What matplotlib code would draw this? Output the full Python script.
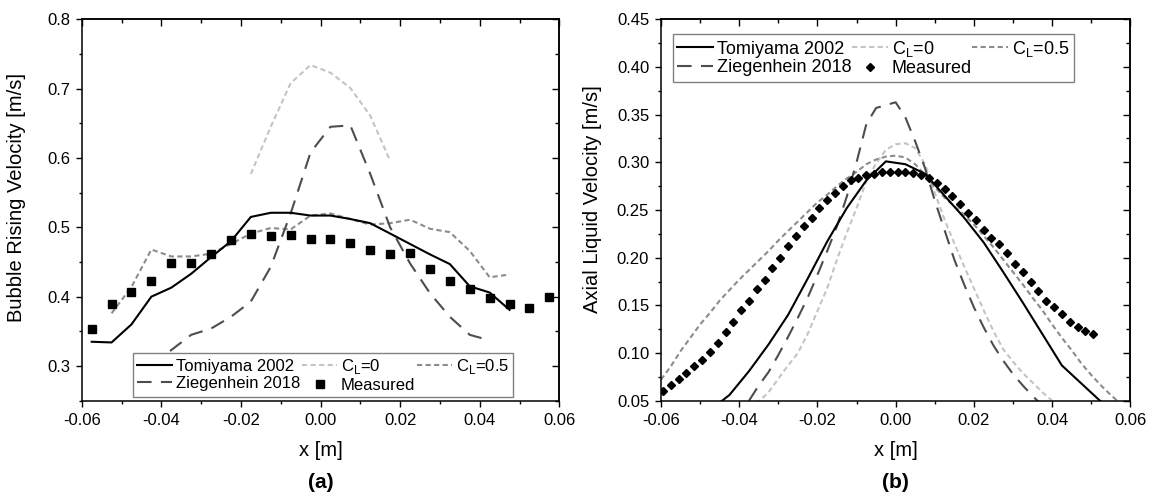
import matplotlib
matplotlib.use('Agg')
import matplotlib.pyplot as plt
from matplotlib.lines import Line2D
from matplotlib.ticker import NullFormatter

plt.rcParams['font.family'] = ['Liberation Sans', 'DejaVu Sans']
plt.rcParams['axes.unicode_minus'] = False

# ---------------- Panel (a): bubble rising velocity ----------------
xa_meas = [-0.0575, -0.0525, -0.0475, -0.0425, -0.0375, -0.0325, -0.0275, -0.0225,
           -0.0175, -0.0125, -0.0075, -0.0025, 0.0025, 0.0075, 0.0125, 0.0175,
           0.0225, 0.0275, 0.0325, 0.0375, 0.0425, 0.0475, 0.0525, 0.0575]
ya_meas = [0.354, 0.390, 0.407, 0.422, 0.448, 0.448, 0.462, 0.482,
           0.490, 0.488, 0.489, 0.483, 0.483, 0.478, 0.468, 0.461,
           0.463, 0.440, 0.423, 0.411, 0.398, 0.390, 0.383, 0.399]

xa_tomi = [-0.0575, -0.0525, -0.0475, -0.0425, -0.0375, -0.0325, -0.0275, -0.0225,
           -0.0175, -0.0125, -0.0075, -0.0025, 0.0025, 0.0075, 0.0125, 0.0175,
           0.0225, 0.0275, 0.0325, 0.0375, 0.0425, 0.0475]
ya_tomi = [0.335, 0.334, 0.360, 0.400, 0.413, 0.433, 0.457, 0.480,
           0.515, 0.521, 0.521, 0.517, 0.517, 0.512, 0.506, 0.491,
           0.476, 0.461, 0.447, 0.415, 0.406, 0.381]

xa_cl0 = [-0.0175, -0.0125, -0.0075, -0.0025, 0.0025, 0.0075, 0.0125, 0.0175]
ya_cl0 = [0.577, 0.645, 0.708, 0.734, 0.723, 0.701, 0.661, 0.596]

xa_cl05 = [-0.0525, -0.0475, -0.0425, -0.0375, -0.0325, -0.0275, -0.0225, -0.0175,
           -0.0125, -0.0075, -0.0025, 0.0025, 0.0075, 0.0125, 0.0175, 0.0225,
           0.0275, 0.0325, 0.0375, 0.0425, 0.0475]
ya_cl05 = [0.376, 0.414, 0.468, 0.458, 0.458, 0.462, 0.476, 0.491,
           0.499, 0.497, 0.517, 0.520, 0.512, 0.504, 0.506, 0.511,
           0.498, 0.493, 0.466, 0.428, 0.432]

xa_zieg = [-0.0425, -0.0375, -0.0325, -0.0275, -0.0225, -0.0175, -0.0125, -0.0075,
           -0.0025, 0.0025, 0.0075, 0.0125, 0.0175, 0.0225, 0.0275, 0.0325,
           0.0375, 0.0425]
ya_zieg = [0.300, 0.323, 0.345, 0.354, 0.371, 0.393, 0.443, 0.520,
           0.608, 0.645, 0.647, 0.577, 0.500, 0.448, 0.405, 0.371,
           0.345, 0.337]

# ---------------- Panel (b): axial liquid velocity ----------------
xb_meas = [-0.0595, -0.0575, -0.0555, -0.0535, -0.0515, -0.0495, -0.0475, -0.0455,
           -0.0435, -0.0415, -0.0395, -0.0375, -0.0355, -0.0335, -0.0315, -0.0295,
           -0.0275, -0.0255, -0.0235, -0.0215, -0.0195, -0.0175, -0.0155, -0.0135,
           -0.0115, -0.0095, -0.0075, -0.0055, -0.0035, -0.0015, 0.0005, 0.0025,
           0.0045, 0.0065, 0.0085, 0.0105, 0.0125, 0.0145, 0.0165, 0.0185,
           0.0205, 0.0225, 0.0245, 0.0265, 0.0285, 0.0305, 0.0325, 0.0345,
           0.0365, 0.0385, 0.0405, 0.0425, 0.0445, 0.0465, 0.0485, 0.0505]
yb_meas = [0.060, 0.066, 0.073, 0.079, 0.086, 0.093, 0.101, 0.110,
           0.122, 0.133, 0.145, 0.155, 0.167, 0.177, 0.189, 0.200,
           0.212, 0.223, 0.233, 0.242, 0.252, 0.261, 0.268, 0.275,
           0.281, 0.284, 0.287, 0.288, 0.290, 0.290, 0.290, 0.290,
           0.289, 0.287, 0.284, 0.278, 0.272, 0.265, 0.256, 0.247,
           0.239, 0.229, 0.221, 0.214, 0.205, 0.193, 0.185, 0.174,
           0.165, 0.155, 0.148, 0.141, 0.133, 0.127, 0.123, 0.120]

xb_tomi = [-0.0475, -0.0425, -0.0375, -0.0325, -0.0275, -0.0225, -0.0175, -0.0125,
           -0.0075, -0.0025, 0.0025, 0.0075, 0.0125, 0.0175, 0.0225, 0.0275,
           0.0325, 0.0375, 0.0425, 0.0475, 0.0525]
yb_tomi = [0.040, 0.056, 0.081, 0.109, 0.140, 0.178, 0.217, 0.252,
           0.281, 0.301, 0.298, 0.288, 0.265, 0.242, 0.216, 0.185,
           0.153, 0.120, 0.087, 0.068, 0.049]

xb_cl0 = [-0.0375, -0.0350, -0.0325, -0.0300, -0.0275, -0.0250, -0.0225, -0.0200,
          -0.0175, -0.0150, -0.0125, -0.0100, -0.0075, -0.0050, -0.0025, 0.0000,
          0.0025, 0.0050, 0.0075, 0.0100, 0.0125, 0.0150, 0.0175, 0.0200,
          0.0225, 0.0250, 0.0275, 0.0300, 0.0325, 0.0350, 0.0375, 0.0400, 0.0425]
yb_cl0 = [0.042, 0.049, 0.059, 0.073, 0.087, 0.100, 0.120, 0.144,
          0.168, 0.198, 0.226, 0.252, 0.280, 0.299, 0.313, 0.319,
          0.320, 0.315, 0.298, 0.268, 0.240, 0.215, 0.191, 0.168,
          0.145, 0.123, 0.104, 0.091, 0.079, 0.069, 0.059, 0.050, 0.043]

xb_cl05 = [-0.0600, -0.0575, -0.0550, -0.0525, -0.0500, -0.0475, -0.0450, -0.0425,
           -0.0400, -0.0375, -0.0350, -0.0325, -0.0300, -0.0275, -0.0250, -0.0225,
           -0.0200, -0.0175, -0.0150, -0.0125, -0.0100, -0.0075, -0.0050, -0.0025,
           0.0000, 0.0025, 0.0050, 0.0075, 0.0100, 0.0125, 0.0150, 0.0175,
           0.0200, 0.0225, 0.0250, 0.0275, 0.0300, 0.0325, 0.0350, 0.0375,
           0.0400, 0.0425, 0.0450, 0.0475, 0.0500, 0.0525, 0.0550, 0.0575]
yb_cl05 = [0.072, 0.086, 0.102, 0.116, 0.130, 0.142, 0.155, 0.166,
           0.177, 0.187, 0.197, 0.207, 0.218, 0.228, 0.238, 0.248,
           0.258, 0.266, 0.275, 0.283, 0.290, 0.298, 0.303, 0.306,
           0.307, 0.305, 0.298, 0.287, 0.274, 0.263, 0.254, 0.245,
           0.235, 0.223, 0.211, 0.198, 0.185, 0.172, 0.158, 0.145,
           0.130, 0.116, 0.103, 0.089, 0.077, 0.066, 0.056, 0.047]

xb_zieg = [-0.0375, -0.0350, -0.0325, -0.0300, -0.0275, -0.0250, -0.0225, -0.0200,
           -0.0175, -0.0150, -0.0125, -0.0100, -0.0075, -0.0050, -0.0025, 0.0000,
           0.0025, 0.0050, 0.0075, 0.0100, 0.0125, 0.0150, 0.0175, 0.0200,
           0.0225, 0.0250, 0.0275, 0.0300, 0.0325, 0.0350, 0.0375]
yb_zieg = [0.050, 0.066, 0.080, 0.098, 0.117, 0.137, 0.158, 0.182,
           0.207, 0.233, 0.264, 0.300, 0.340, 0.357, 0.360, 0.363,
           0.347, 0.322, 0.294, 0.260, 0.229, 0.198, 0.172, 0.148,
           0.127, 0.108, 0.092, 0.078, 0.066, 0.055, 0.045]

# ---------------- tick definitions ----------------
x_major = [-0.06, -0.04, -0.02, 0.00, 0.02, 0.04, 0.06]
x_minor = [-0.05, -0.03, -0.01, 0.01, 0.03, 0.05]
x_labels = ['-0.06', '-0.04', '-0.02', '0.00', '0.02', '0.04', '0.06']
ya_major = [0.3, 0.4, 0.5, 0.6, 0.7, 0.8]
ya_minor = [0.25, 0.35, 0.45, 0.55, 0.65, 0.75]
ya_labels = ['0.3', '0.4', '0.5', '0.6', '0.7', '0.8']
yb_major = [0.05, 0.10, 0.15, 0.20, 0.25, 0.30, 0.35, 0.40, 0.45]
yb_minor = [0.075, 0.125, 0.175, 0.225, 0.275, 0.325, 0.375, 0.425]
yb_labels = ['0.05', '0.10', '0.15', '0.20', '0.25', '0.30', '0.35', '0.40', '0.45']

C_BLACK = '#000000'
C_LIGHT = '#c4c4c4'
C_MED = '#8c8c8c'
C_DARK = '#4d4d4d'
LW = 1.5
SHORT = (2.5, 1.6)
LONG = (7.0, 4.5)

fig = plt.figure(figsize=(11.56, 4.96), dpi=100)
W, H = 1156.0, 496.0
ax1 = fig.add_axes([81.7 / W, 1 - 400.7 / H, (559.3 - 81.7) / W, (400.7 - 19.3) / H])
ax2 = fig.add_axes([661.0 / W, 1 - 400.7 / H, (1130.3 - 661.0) / W, (400.7 - 19.3) / H])


def style(ax, ylim, ymaj, ymin, ylab):
    ax.set_xlim(-0.06, 0.06)
    ax.set_ylim(*ylim)
    ax.set_xticks(x_major)
    ax.set_xticklabels(x_labels)
    ax.set_xticks(x_minor, minor=True)
    ax.set_yticks(ymaj)
    ax.set_yticklabels(ylab)
    ax.set_yticks(ymin, minor=True)
    for s in ax.spines.values():
        s.set_linewidth(1.1)
    ax.tick_params(which='both', direction='out', top=False, right=False,
                   width=1.0, labelsize=12)
    ax.tick_params(which='major', length=4.5)
    ax.tick_params(which='minor', length=2.5)
    ax.tick_params(axis='x', pad=4)
    ax.tick_params(axis='y', pad=4)
    sx = ax.secondary_xaxis('top')
    sx.set_xticks(x_major)
    sx.set_xticks(x_minor, minor=True)
    sx.xaxis.set_major_formatter(NullFormatter())
    sx.tick_params(which='both', direction='in', width=1.0)
    sx.tick_params(which='major', length=5)
    sx.tick_params(which='minor', length=3)
    sx.spines['top'].set_linewidth(1.1)
    sy = ax.secondary_yaxis('right')
    sy.set_yticks(ymaj)
    sy.set_yticks(ymin, minor=True)
    sy.yaxis.set_major_formatter(NullFormatter())
    sy.tick_params(which='both', direction='in', width=1.0)
    sy.tick_params(which='major', length=5)
    sy.tick_params(which='minor', length=3)
    sy.spines['right'].set_linewidth(1.1)


style(ax1, (0.25, 0.8), ya_major, ya_minor, ya_labels)
style(ax2, (0.05, 0.45), yb_major, yb_minor, yb_labels)

# ---- panel (a) drawing ----
ax1.plot(xa_cl0, ya_cl0, color=C_LIGHT, lw=LW, dashes=SHORT)
ax1.plot(xa_cl05, ya_cl05, color=C_MED, lw=LW, dashes=SHORT)
ax1.plot(xa_zieg, ya_zieg, color=C_DARK, lw=LW, dashes=LONG)
ax1.plot(xa_tomi, ya_tomi, color=C_BLACK, lw=LW)
ax1.plot(xa_meas, ya_meas, ls='none', marker='s', ms=5.5, color='black')

# ---- panel (b) drawing ----
ax2.plot(xb_cl0, yb_cl0, color=C_LIGHT, lw=LW, dashes=SHORT)
ax2.plot(xb_cl05, yb_cl05, color=C_MED, lw=LW, dashes=SHORT)
ax2.plot(xb_zieg, yb_zieg, color=C_DARK, lw=LW, dashes=LONG)
ax2.plot(xb_tomi, yb_tomi, color=C_BLACK, lw=LW)
ax2.plot(xb_meas, yb_meas, ls='none', marker='D', ms=4.0, color='black')


def legend(ax, meas_marker, meas_ms, bbox, fs, hl):
    h = [Line2D([], [], color=C_BLACK, lw=LW),
         Line2D([], [], color=C_DARK, lw=LW, dashes=LONG),
         Line2D([], [], color=C_LIGHT, lw=LW, dashes=SHORT),
         Line2D([], [], ls='none', marker=meas_marker, ms=meas_ms, color='black'),
         Line2D([], [], color=C_MED, lw=LW, dashes=SHORT)]
    labels = ['Tomiyama 2002', 'Ziegenhein 2018', r'C$_\mathregular{L}$=0', 'Measured',
              r'C$_\mathregular{L}$=0.5']
    leg = ax.legend(h, labels, ncol=3, loc='lower left', bbox_to_anchor=bbox,
                    mode='expand', borderaxespad=0, fontsize=fs, handlelength=hl,
                    handletextpad=0.2, columnspacing=0.3, labelspacing=0.1,
                    borderpad=0.25, frameon=True, fancybox=False, framealpha=1)
    leg.get_frame().set_edgecolor('#808080')
    leg.get_frame().set_linewidth(1.0)
    return leg


legend(ax1, 's', 5.5, (0.108, 0.0097, 0.795, 0.126), 12, 2.1)
legend(ax2, 'D', 4.0, (0.025, 0.836, 0.854, 0.14), 13, 2.0)

# axis labels
fig.text(16.3 / W, 1 - 198 / H, 'Bubble Rising Velocity [m/s]', rotation=90,
         ha='center', va='center', fontsize=14.5)
fig.text(592.5 / W, 1 - 199 / H, 'Axial Liquid Velocity [m/s]', rotation=90,
         ha='center', va='center', fontsize=14.5)
fig.text((81.7 + 559.3) / 2 / W, 1 - 451 / H, 'x [m]', ha='center', va='center', fontsize=14.5)
fig.text((661.0 + 1130.3) / 2 / W, 1 - 451 / H, 'x [m]', ha='center', va='center', fontsize=14.5)
fig.text((81.7 + 559.3) / 2 / W, 1 - 482 / H, '(a)', ha='center', va='center',
         fontsize=15, fontweight='bold')
fig.text((661.0 + 1130.3) / 2 / W, 1 - 482 / H, '(b)', ha='center', va='center',
         fontsize=15, fontweight='bold')

fig.savefig('out.png', dpi=100)
